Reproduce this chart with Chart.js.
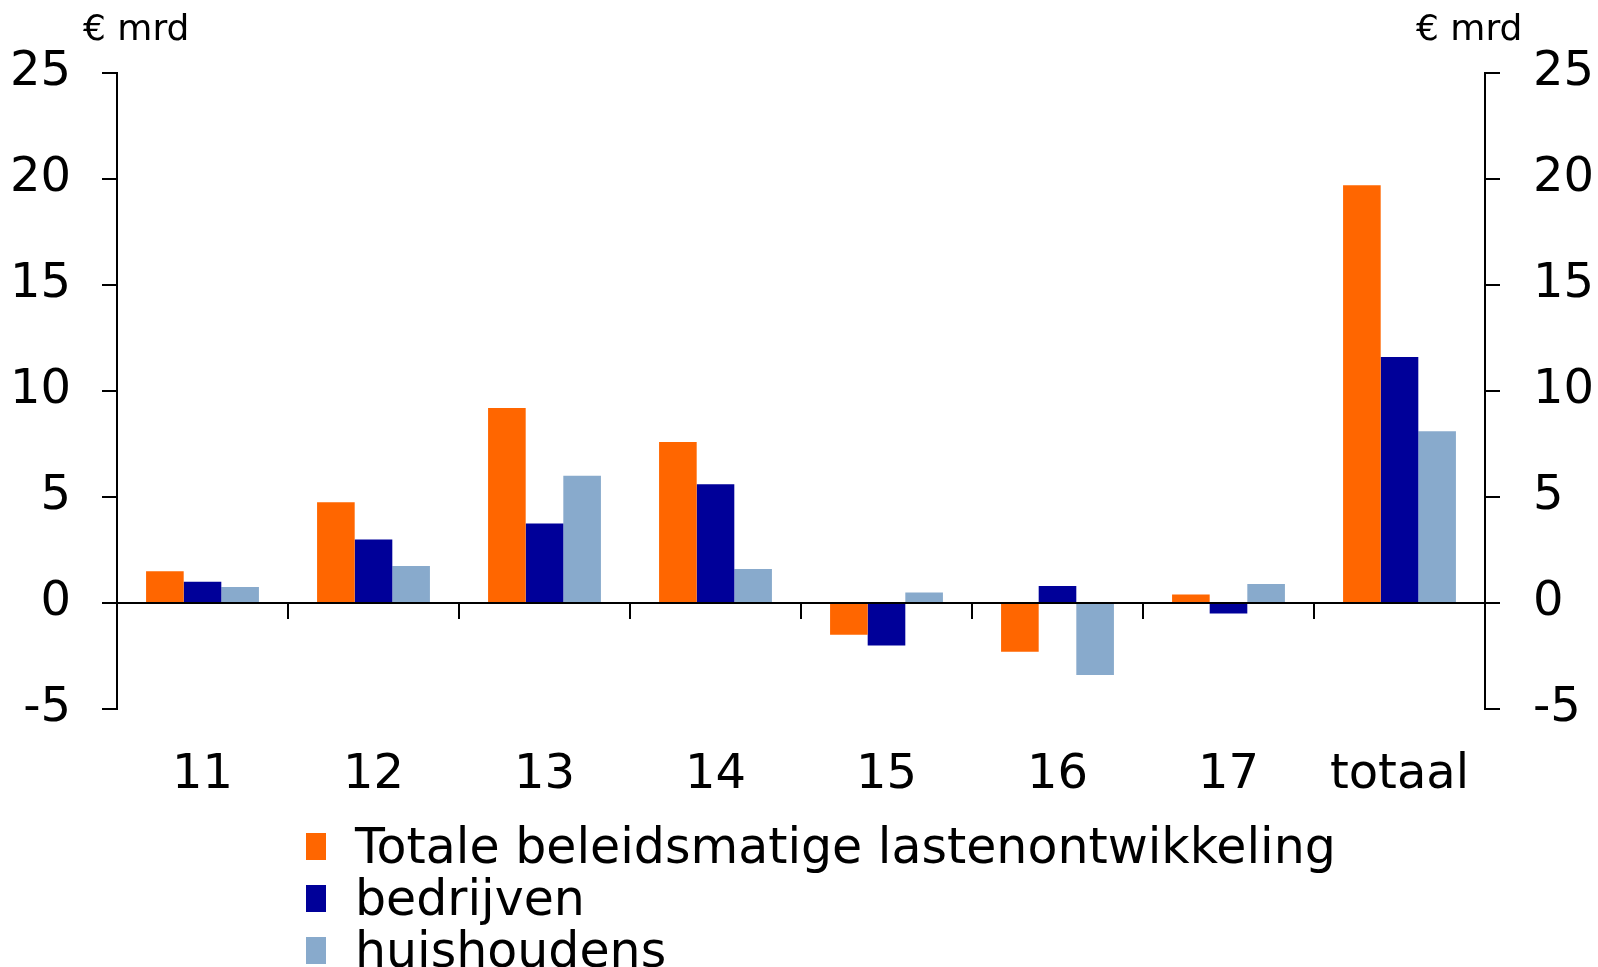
<!DOCTYPE html>
<html lang="nl">
  <head>
    <meta charset="UTF-8" />
    <title>Beleidsmatige lastenontwikkeling</title>
    <script src="https://cdn.jsdelivr.net/npm/chart.js"></script>
    <style>
      body {
        margin: 0;
        background: #ffffff;
        overflow: hidden;
        font-family: "DejaVu Sans", Verdana, sans-serif;
      }
      .wrap {
        position: relative;
        width: 1598px;
        height: 967px;
        overflow: hidden;
      }
      .unit {
        position: absolute;
        top: 10px;
        font-size: 36px;
        line-height: 36px;
        color: #000;
      }
      #legend {
        position: absolute;
        left: 306px;
        top: 821px;
      }
      .legend-row {
        display: flex;
        height: 52px;
      }
      .legend-box {
        width: 20px;
        height: 27px;
        margin-top: 12px;
        margin-right: 29px;
      }
      .legend-text {
        font-size: 49px;
        line-height: 52px;
        color: #000;
        white-space: nowrap;
      }
    </style>
  </head>
  <body>
    <div class="wrap">
      <canvas id="chart" width="1598" height="967"></canvas>
      <div class="unit" style="left: 83px">€ mrd</div>
      <div class="unit" style="left: 1416px">€ mrd</div>
      <div id="legend"></div>
    </div>

    <script>
      // values (€ mrd)
      const categories = ["11", "12", "13", "14", "15", "16", "17", "totaal"];
      const totaleLasten = [1.5, 4.75, 9.2, 7.6, -1.5, -2.3, 0.4, 19.7];
      const bedrijven = [1.0, 3.0, 3.75, 5.6, -2.0, 0.8, -0.5, 11.6];
      const huishoudens = [0.75, 1.75, 6.0, 1.6, 0.5, -3.4, 0.9, 8.1];
      const seriesNames = ["Totale beleidsmatige lastenontwikkeling", "bedrijven", "huishoudens"];
      const seriesColors = ["#ff6600", "#000099", "#88aacc"];

      const yMin = -5;
      const yMax = 25;
      const yStep = 5;

      const tickFont = { family: "DejaVu Sans", size: 48 };

      function valueAxis(position, width, pad) {
        return {
          type: "linear",
          position: position,
          min: yMin,
          max: yMax,
          ticks: { stepSize: yStep, font: tickFont, color: "#000", padding: pad },
          grid: {
            drawOnChartArea: false,
            drawTicks: true,
            tickLength: 15,
            color: "#000",
            lineWidth: 2
          },
          border: { display: true, color: "#000", width: 2 },
          afterFit: function (scale) {
            scale.width = width;
          }
        };
      }

      const ctx = document.getElementById("chart").getContext("2d");
      const chart = new Chart(ctx, {
        type: "bar",
        data: {
          labels: categories,
          datasets: [totaleLasten, bedrijven, huishoudens].map(function (vals, i) {
            return {
              label: seriesNames[i],
              data: vals,
              backgroundColor: seriesColors[i],
              borderWidth: 0,
              barPercentage: 1,
              categoryPercentage: 0.66,
              xAxisID: "x",
              yAxisID: "y"
            };
          })
        },
        options: {
          responsive: false,
          animation: false,
          layout: { padding: { top: 73, bottom: 168, left: 0, right: 0 } },
          plugins: {
            legend: { display: false },
            tooltip: { enabled: false }
          },
          scales: {
            x: {
              type: "category",
              position: "bottom",
              offset: true,
              grid: { display: false, drawTicks: false },
              border: { display: false },
              ticks: { font: tickFont, color: "#000", padding: 38 },
              afterFit: function (scale) {
                scale.height = 90;
              }
            },
            // zero line with the category dividers hanging from it
            x2: {
              type: "category",
              position: { y: 0 },
              offset: true,
              grid: {
                offset: true,
                drawOnChartArea: false,
                drawTicks: true,
                tickLength: 15,
                color: "#000",
                lineWidth: 2
              },
              border: { display: true, color: "#000", width: 2 },
              ticks: { display: false },
              afterFit: function (scale) {
                scale.height = 0;
              }
            },
            y: valueAxis("left", 117, 31),
            y2: valueAxis("right", 113, 33)
          }
        }
      });

      // legend as html, built from the datasets
      const legendEl = document.getElementById("legend");
      chart.data.datasets.forEach(function (ds) {
        const row = document.createElement("div");
        row.className = "legend-row";
        const box = document.createElement("div");
        box.className = "legend-box";
        box.style.background = ds.backgroundColor;
        const txt = document.createElement("span");
        txt.className = "legend-text";
        txt.textContent = ds.label;
        row.appendChild(box);
        row.appendChild(txt);
        legendEl.appendChild(row);
      });
    </script>
  </body>
</html>
